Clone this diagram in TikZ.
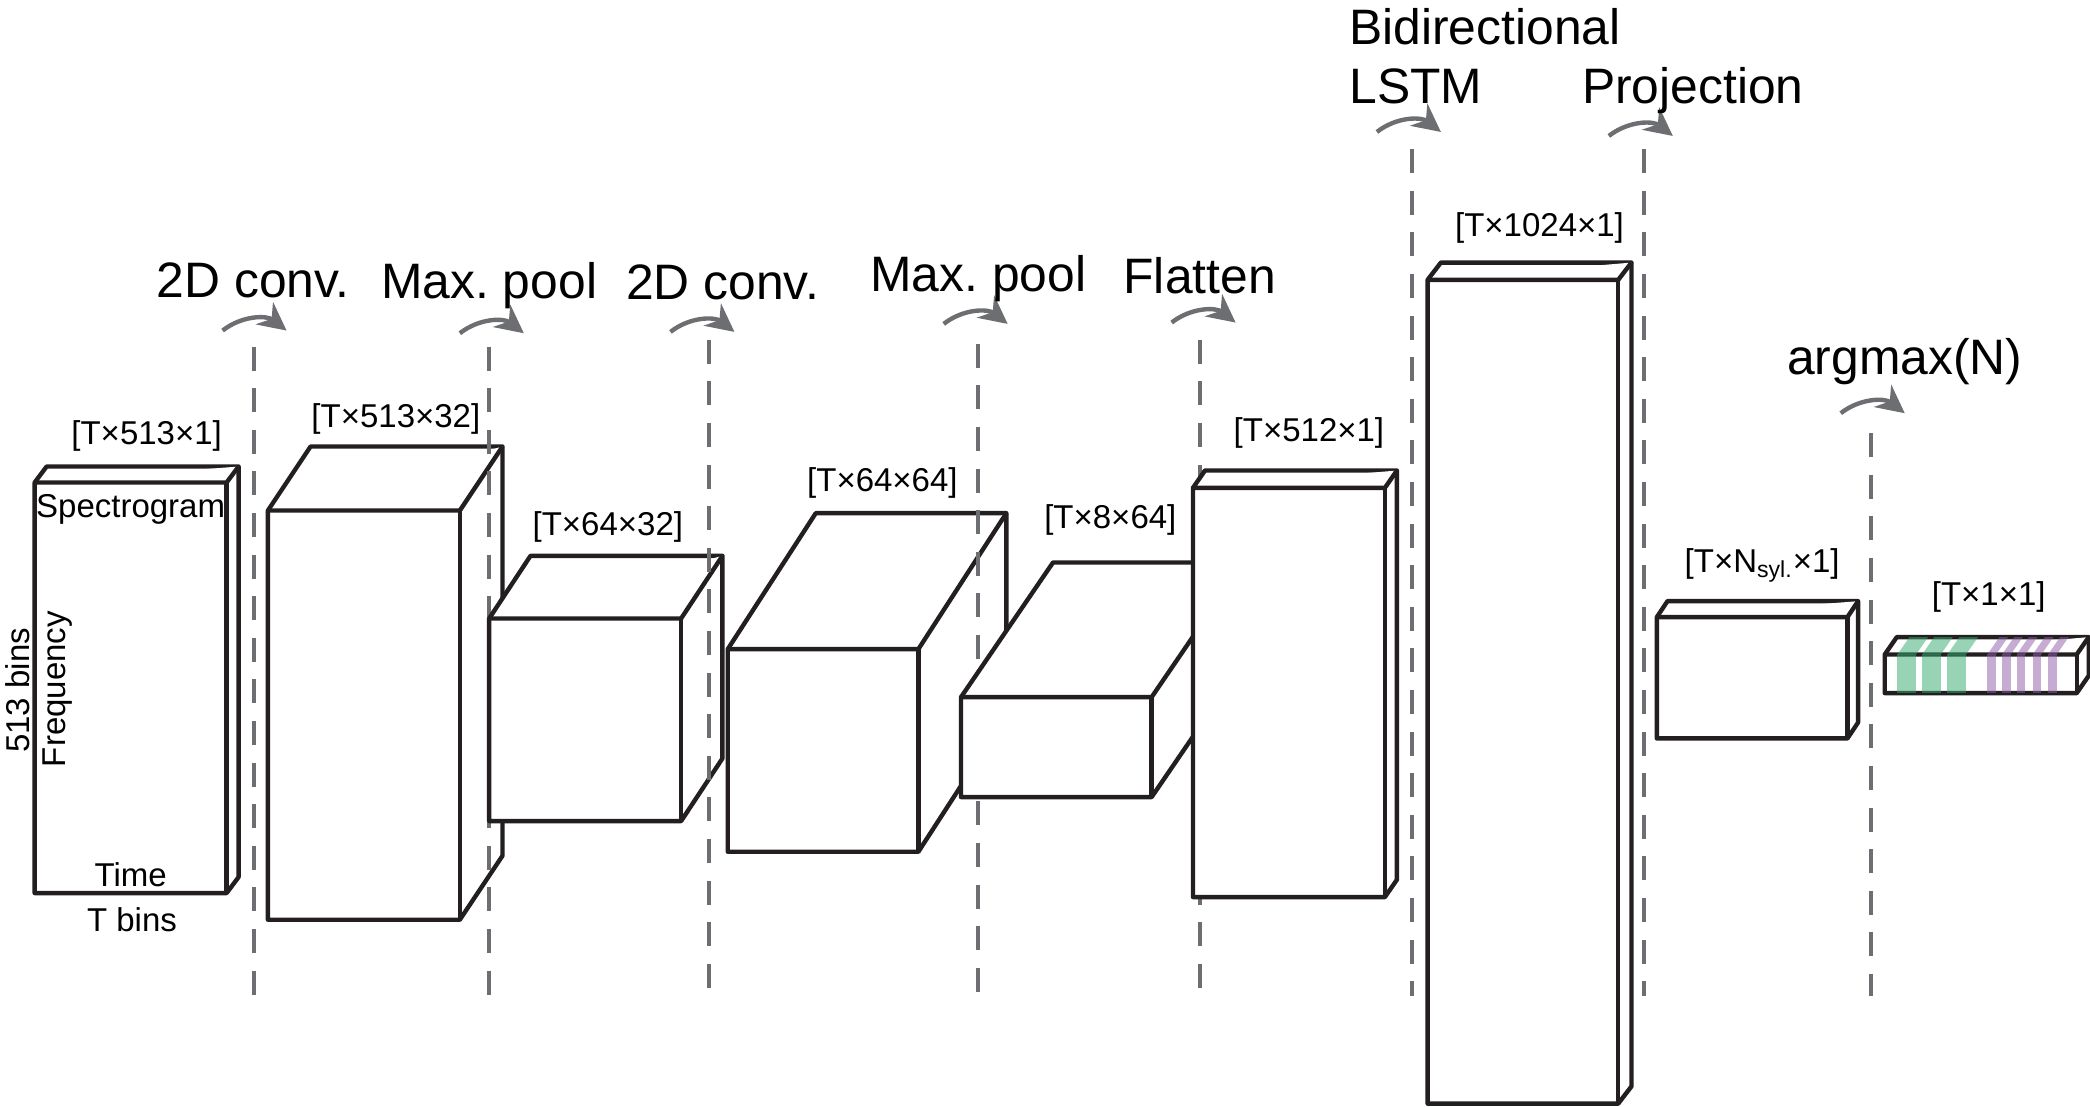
\documentclass[tikz,border=0pt]{standalone}
\usepackage{fontspec}
\setmainfont{Liberation Sans}
\usepackage{xcolor}
\usepackage{tikz}
\usetikzlibrary{arrows.meta}
\definecolor{dashgray}{HTML}{6D6E71}
\definecolor{boxline}{HTML}{231F20}
\definecolor{syla}{HTML}{35A96E}
\definecolor{sylb}{HTML}{8E5BA6}
\frenchspacing
% name, left, right, top, bottom, depth x, depth y
\newcommand{\cuboid}[7]{%
\draw[boxedge](#2,#3)--(#2+#6,#3-#7)--(#4+#6,#3-#7)--(#4+#6,#5-#7)--(#4,#5)--(#2,#5)--cycle;
\draw[boxedge](#2,#3)--(#4,#3)--(#4+#6,#3-#7);\draw[boxedge](#4,#3)--(#4,#5);
\coordinate(#1)at(#2,#3);}
\newcommand{\stripe}[3]{%
\fill[#3,opacity=0.5](#1,491)rectangle(#1+#2,520);
\fill[#3,opacity=0.5](#1,491)--(#1+#2,491)--(#1+#2+9,478)--(#1+9,478)--cycle;}
\newcommand{\cutline}[3]{%
\coordinate(#1t)at(#2,#3);\coordinate(#1b)at(#2,747);\draw[cut](#1t)--(#1b);}
\newcommand{\steparrow}[3]{%
\coordinate(#1s)at(#2,#3);\coordinate(#1e)at(#2+48,#3);\draw[steparr](#1s)to[bend left=38](#1e);}
\begin{document}
\begin{tikzpicture}[x=0.6665pt,y=-0.6665pt,
boxedge/.style={line width=2.2pt,draw=boxline,fill=white,line join=round},
cut/.style={line width=2pt,dashgray,dash pattern=on 12pt off 8.8pt},
steparr/.style={line width=2.2pt,dashgray,-{Stealth[length=14pt,width=14pt,inset=4.5pt]}},
bigtxt/.style={inner sep=0pt,font=\fontsize{24.9}{30}\selectfont},
dimtxt/.style={inner sep=0pt,font=\fontsize{16.5}{20}\selectfont}]
\useasboundingbox(0,0)rectangle(1568,830);
% layers and cuts, back to front
\cuboid{spec}{26}{362}{170}{670}{9}{12}
\cutline{cuta}{190.5}{260}
\cuboid{conva}{201}{383}{345}{690}{32}{48}
\cutline{cutb}{367}{260}
\cuboid{poola}{367}{464}{511}{616}{31}{47}
\cutline{cutc}{532}{255}
\cuboid{convb}{546}{487}{689}{639}{66}{102}
\cutline{cutd}{733.5}{258}
\cuboid{poolb}{721}{523}{864}{598}{69}{101}
\cutline{cute}{900}{255}
\cuboid{flat}{895}{366}{1039}{673}{9}{13}
\cutline{cutf}{1059}{112}
\cuboid{lstm}{1071}{210}{1214}{828}{10}{13}
\cutline{cutg}{1233}{112}
\cuboid{proj}{1243}{463}{1386}{554}{8}{12}
\cutline{cuth}{1404}{325}
\cuboid{amax}{1414}{491}{1558}{520}{9}{13}
% syllable stripes
\foreach \x in {1423.5,1442,1461}{\stripe{\x}{14}{syla}}
\foreach \x in {1491,1502,1513,1525,1536.5}{\stripe{\x}{6.5}{sylb}}
% operation arrows
\steparrow{arra}{167}{248}
\steparrow{arrb}{345}{250}
\steparrow{arrc}{503}{249}
\steparrow{arrd}{708}{243}
\steparrow{arre}{879}{242}
\steparrow{arrf}{1033}{99}
\steparrow{arrg}{1207}{102}
\steparrow{arrh}{1381}{310}
% operation names
\node[bigtxt](opa)at(190,210){2D conv.};
\node[bigtxt](opb)at(367,214){Max. pool};
\node[bigtxt](opc)at(542,212){2D conv.};
\node[bigtxt](opd)at(734,209){Max. pool};
\node[bigtxt](ope)at(900,207){Flatten};
\node[bigtxt,anchor=west](opf)at(1012,20){Bidirectional};
\node[bigtxt,anchor=west](opfb)at(1012,65){LSTM};
\node[bigtxt](opg)at(1270,68){Projection};
\node[bigtxt](oph)at(1429,271){argmax(N)};
% sizes
\node[dimtxt](dima)at(110,327){[T×513×1]};
\node[dimtxt](dimb)at(297,314){[T×513×32]};
\node[dimtxt](dimc)at(456,395){[T×64×32]};
\node[dimtxt](dimd)at(662,362){[T×64×64]};
\node[dimtxt](dime)at(833,390){[T×8×64]};
\node[dimtxt](dimf)at(982,325){[T×512×1]};
\node[dimtxt](dimg)at(1155,171){[T×1024×1]};
\node[dimtxt](dimh)at(1322,424){[T×N\textsubscript{syl.}×1]};
\node[dimtxt](dimi)at(1492,448){[T×1×1]};
% spectrogram labels
\node[dimtxt](spname)at(98,382){Spectrogram};
\node[dimtxt](sptime)at(98,656){Time};
\node[dimtxt](spbins)at(99,690){T bins};
\node[dimtxt,rotate=90](spfbins)at(13,518){513 bins};
\node[dimtxt,rotate=90](spfreq)at(43,517){Frequency};
\end{tikzpicture}
\end{document}
